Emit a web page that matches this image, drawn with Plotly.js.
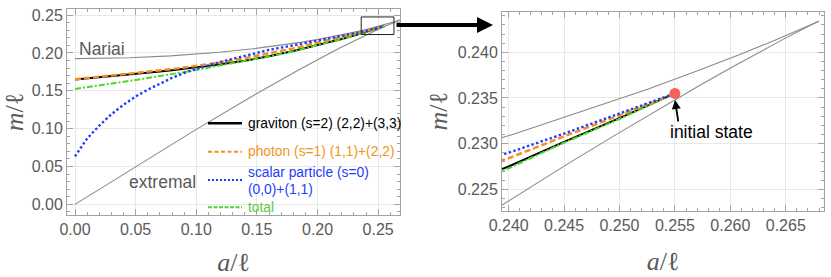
<!DOCTYPE html>
<html>
<head>
<meta charset="utf-8">
<script src="https://cdn.plot.ly/plotly-3.0.1.min.js"></script>
<style>html,body{margin:0;padding:0;background:#fff;}#chart{width:831px;height:277px;}</style>
</head>
<body>
<div id="chart"></div>
<script>
// ---- data ----
const aEvol = [0, 0.01, 0.02, 0.03, 0.04, 0.05, 0.06, 0.07, 0.08, 0.09, 0.10, 0.12, 0.14, 0.16, 0.18, 0.20, 0.22, 0.24, 0.245, 0.25, 0.255];
const mGraviton = [0.1648, 0.1662, 0.1677, 0.1692, 0.1707, 0.1722, 0.1738, 0.1755, 0.1772, 0.1790, 0.1808, 0.1850, 0.1898, 0.1955, 0.2025, 0.2100, 0.2185, 0.2275, 0.2302, 0.2328, 0.2355];
const mPhoton   = [0.1652, 0.1668, 0.1684, 0.1700, 0.1716, 0.1733, 0.1750, 0.1768, 0.1787, 0.1807, 0.1828, 0.1875, 0.1930, 0.1992, 0.2060, 0.2136, 0.2212, 0.2284, 0.2308, 0.2331, 0.2355];
const mScalar   = [0.0635, 0.0870, 0.1040, 0.1190, 0.1315, 0.1425, 0.1515, 0.1595, 0.1670, 0.1735, 0.1788, 0.1882, 0.1965, 0.2040, 0.2100, 0.2160, 0.2225, 0.2290, 0.2311, 0.2333, 0.2355];
const mTotal    = [0.1525, 0.1547, 0.1570, 0.1594, 0.1618, 0.1643, 0.1668, 0.1694, 0.1720, 0.1747, 0.1775, 0.1836, 0.1893, 0.1952, 0.2022, 0.2098, 0.2183, 0.2273, 0.2301, 0.2327, 0.2355];

const aNariai = [0, 0.0449, 0.0788, 0.1012, 0.1189, 0.1466, 0.1579, 0.1681, 0.1773, 0.1857, 0.2005, 0.2130, 0.2236, 0.2327, 0.2405, 0.2470, 0.2526, 0.2571, 0.2608, 0.2636, 0.2657, 0.2671, 0.2680];
const mNariai = [0.19245, 0.19362, 0.19608, 0.19849, 0.20085, 0.20543, 0.20765, 0.20981, 0.21191, 0.21396, 0.21789, 0.22157, 0.22500, 0.22817, 0.23106, 0.23367, 0.23599, 0.23801, 0.23972, 0.24111, 0.24217, 0.24291, 0.24340];

const aExtremal = [0, 0.04975, 0.09800, 0.14325, 0.18397, 0.21862, 0.23580, 0.24084, 0.24551, 0.24980, 0.25368, 0.25714, 0.26017, 0.26273, 0.26481, 0.26639, 0.26743, 0.26795];
const mExtremal = [0, 0.04963, 0.09704, 0.14017, 0.17723, 0.20680, 0.22053, 0.22440, 0.22792, 0.23107, 0.23387, 0.23631, 0.23838, 0.24009, 0.24144, 0.24244, 0.24308, 0.24340];

const initialState = {a: [0.255], m: [0.2355]};

const leftXTicks = [0, 0.05, 0.10, 0.15, 0.20, 0.25];
const leftYTicks = [0, 0.05, 0.10, 0.15, 0.20, 0.25];
const rightXTicks = [0.240, 0.245, 0.250, 0.255, 0.260, 0.265];
const rightYTicks = [0.225, 0.230, 0.235, 0.240];

const legendLabels = ['graviton (s=2) (2,2)+(3,3)', 'photon (s=1) (1,1)+(2,2)', 'scalar particle (s=0)', '(0,0)+(1,1)', 'total'];

// ---- styling ----
const W = 831, H = 277;
const px = x => x / W, py = y => 1 - y / H;
const GRAY = '#5a5a5a';
const FRAME = '#a3a3a3';
const C_GRAV = '#000000', C_PHOT = '#F5901E', C_SCAL = '#1E3CFF', C_TOT = '#4DD62B';
const C_PHOT_T = '#F29422', C_TOT_T = '#5CCB3A';
const tickFont = {family: 'Liberation Sans, Arial, sans-serif', size: 16, color: GRAY};
const titleFont = {family: 'Liberation Serif, DejaVu Serif, serif', size: 26, color: GRAY};

const styles = {
  grav: {color: C_GRAV, width: 2, dash: 'solid'},
  phot: {color: C_PHOT, width: 2.5, dash: '6px,3px'},
  scal: {color: C_SCAL, width: 2.4, dash: '2.4px,2.4px'},
  tot:  {color: C_TOT, width: 2, dash: '6px,2px,2px,2px'},
  bound: {color: '#8a8a8a', width: 1.1}
};

function panelTraces(xa, ya) {
  return [
    {x: aNariai, y: mNariai, mode: 'lines', line: styles.bound, xaxis: xa, yaxis: ya, hoverinfo: 'skip'},
    {x: aExtremal, y: mExtremal, mode: 'lines', line: styles.bound, xaxis: xa, yaxis: ya, hoverinfo: 'skip'},
    {x: aEvol, y: mGraviton, mode: 'lines', line: styles.grav, xaxis: xa, yaxis: ya},
    {x: aEvol, y: mTotal, mode: 'lines', line: styles.tot, xaxis: xa, yaxis: ya},
    {x: aEvol, y: mPhoton, mode: 'lines', line: styles.phot, xaxis: xa, yaxis: ya},
    {x: aEvol, y: mScalar, mode: 'lines', line: styles.scal, xaxis: xa, yaxis: ya}
  ];
}

const traces = panelTraces('x', 'y').concat(panelTraces('x2', 'y2'));
traces.push({x: initialState.a, y: initialState.m, mode: 'markers', xaxis: 'x2', yaxis: 'y2',
  marker: {size: 11, color: '#F46458'}});

function axis(extra) {
  return Object.assign({
    showline: true, mirror: 'ticks', linecolor: FRAME, linewidth: 1,
    ticks: 'inside', ticklen: 6, tickcolor: FRAME, tickwidth: 1,
    showgrid: true, gridcolor: '#e8e8e8', gridwidth: 1, zeroline: false,
    tickfont: tickFont, tickmode: 'array',
    automargin: false
  }, extra);
}

const layout = {
  width: W, height: H,
  margin: {l: 0, r: 0, t: 0, b: 0},
  paper_bgcolor: '#ffffff', plot_bgcolor: '#ffffff',
  showlegend: false,
  xaxis: axis({domain: [px(67), px(400)], range: [-0.0066, 0.268], anchor: 'y',
    tickvals: leftXTicks, ticktext: leftXTicks.map(v => v.toFixed(2)),
    minor: {dtick: 0.01, ticks: 'inside', ticklen: 3, tickcolor: FRAME, showgrid: false},
    title: {text: '<i>a</i>/ℓ', font: titleFont, standoff: 18}}),
  yaxis: axis({domain: [py(215), py(9)], range: [-0.014, 0.258], anchor: 'x',
    tickvals: leftYTicks, ticktext: leftYTicks.map(v => v.toFixed(2)),
    minor: {dtick: 0.01, ticks: 'inside', ticklen: 3, tickcolor: FRAME, showgrid: false},
    title: {text: '<i>m</i>/ℓ', font: titleFont, standoff: 2}}),
  xaxis2: axis({domain: [px(502), px(824)], range: [0.2394, 0.26845], anchor: 'y2',
    tickvals: rightXTicks, ticktext: rightXTicks.map(v => v.toFixed(3)),
    minor: {dtick: 0.001, ticks: 'inside', ticklen: 3, tickcolor: FRAME, showgrid: false},
    title: {text: '<i>a</i>/ℓ', font: titleFont, standoff: 18}}),
  yaxis2: axis({domain: [py(210.7), py(12)], range: [0.22266, 0.24441], anchor: 'x2',
    tickvals: rightYTicks, ticktext: rightYTicks.map(v => v.toFixed(3)),
    minor: {dtick: 0.001, ticks: 'inside', ticklen: 3, tickcolor: FRAME, showgrid: false},
    title: {text: '<i>m</i>/ℓ', font: titleFont, standoff: 2}}),
  shapes: [
    {type: 'rect', xref: 'x', yref: 'y', x0: 0.236, x1: 0.263, y0: 0.2243, y1: 0.2475,
      line: {color: '#222', width: 1}},
    // legend line samples
    {type: 'line', xref: 'paper', yref: 'paper', x0: px(208), x1: px(242), y0: py(123.3), y1: py(123.3), line: {color: C_GRAV, width: 2.5}},
    {type: 'line', xref: 'paper', yref: 'paper', x0: px(208), x1: px(242), y0: py(151.7), y1: py(151.7), line: {color: C_PHOT, width: 2, dash: '4px,2.5px'}},
    {type: 'line', xref: 'paper', yref: 'paper', x0: px(208), x1: px(242), y0: py(180), y1: py(180), line: {color: C_SCAL, width: 2, dash: '2px,2px'}},
    {type: 'line', xref: 'paper', yref: 'paper', x0: px(208), x1: px(242), y0: py(207.3), y1: py(207.3), line: {color: C_TOT, width: 2, dash: '4px,1.5px'}}
  ],
  annotations: [
    {xref: 'paper', yref: 'paper', x: px(77), y: py(49), xanchor: 'left', yanchor: 'middle', showarrow: false,
      text: 'Nariai', font: {family: 'Liberation Sans, Arial, sans-serif', size: 17.5, color: GRAY}},
    {xref: 'paper', yref: 'paper', x: px(127), y: py(181.7), xanchor: 'left', yanchor: 'middle', showarrow: false,
      text: 'extremal', font: {family: 'Liberation Sans, Arial, sans-serif', size: 17.5, color: GRAY}},
    {xref: 'paper', yref: 'paper', x: px(246), y: py(123.3), xanchor: 'left', yanchor: 'middle', showarrow: false,
      text: legendLabels[0], font: {family: 'Liberation Sans, Arial, sans-serif', size: 13.8, color: '#000'}},
    {xref: 'paper', yref: 'paper', x: px(246), y: py(151.7), xanchor: 'left', yanchor: 'middle', showarrow: false,
      text: legendLabels[1], font: {family: 'Liberation Sans, Arial, sans-serif', size: 13.8, color: C_PHOT_T}},
    {xref: 'paper', yref: 'paper', x: px(246), y: py(172.7), xanchor: 'left', yanchor: 'middle', showarrow: false,
      text: legendLabels[2], font: {family: 'Liberation Sans, Arial, sans-serif', size: 13.8, color: C_SCAL}},
    {xref: 'paper', yref: 'paper', x: px(246), y: py(189.3), xanchor: 'left', yanchor: 'middle', showarrow: false,
      text: legendLabels[3], font: {family: 'Liberation Sans, Arial, sans-serif', size: 13.8, color: C_SCAL}},
    {xref: 'paper', yref: 'paper', x: px(246), y: py(207.3), xanchor: 'left', yanchor: 'middle', showarrow: false,
      text: legendLabels[4], font: {family: 'Liberation Sans, Arial, sans-serif', size: 13.8, color: C_TOT_T}},
    // big arrow between panels
    {xref: 'paper', yref: 'paper', x: px(493), y: py(25), ax: -98, ay: 0, axref: 'pixel', ayref: 'pixel',
      text: '', showarrow: true, arrowhead: 2, arrowsize: 0.8, arrowwidth: 4, arrowcolor: '#000'},
    // initial state
    {xref: 'paper', yref: 'paper', x: px(668), y: py(131.7), xanchor: 'left', yanchor: 'middle', showarrow: false,
      text: 'initial state', font: {family: 'Liberation Sans, Arial, sans-serif', size: 17.5, color: '#000'}},
    {xref: 'paper', yref: 'paper', x: px(675), y: py(100), ax: 3.5, ay: 23, axref: 'pixel', ayref: 'pixel',
      text: '', showarrow: true, arrowhead: 2, arrowsize: 1, arrowwidth: 1.8, arrowcolor: '#000'}
  ]
};

Plotly.newPlot('chart', traces, layout, {staticPlot: true, displayModeBar: false});
</script>
</body>
</html>
